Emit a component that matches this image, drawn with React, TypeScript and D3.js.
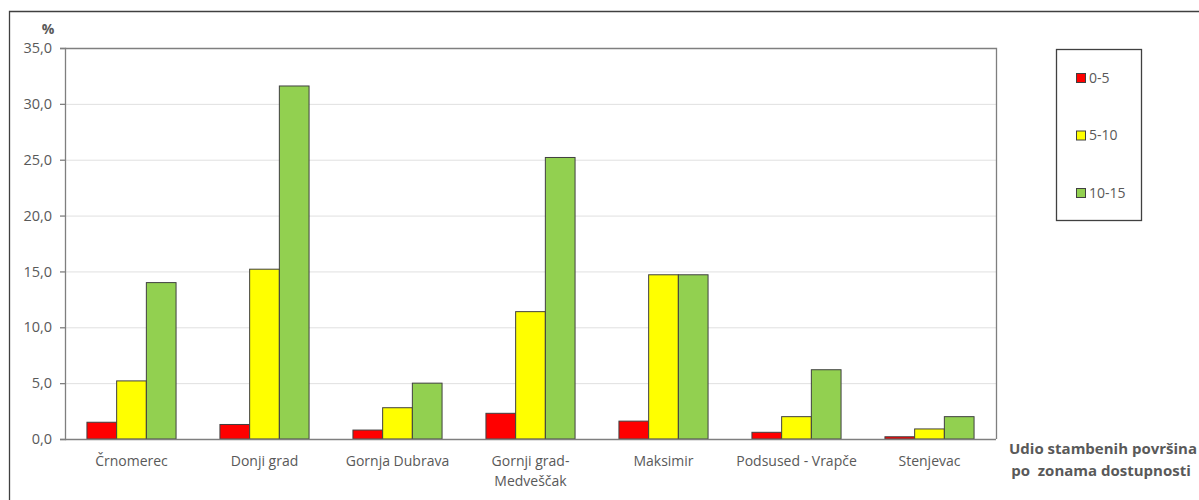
import React, { useEffect, useRef } from "react";
import * as d3 from "d3";

const categories = [
  ["Črnomerec"],
  ["Donji grad"],
  ["Gornja Dubrava"],
  ["Gornji grad-", "Medveščak"],
  ["Maksimir"],
  ["Podsused - Vrapče"],
  ["Stenjevac"],
];
const seriesNames = ["0-5", "5-10", "10-15"];
const seriesColors = ["#ff0000", "#ffff00", "#92d050"];
const values05 = [1.5, 1.3, 0.8, 2.3, 1.6, 0.6, 0.2];
const values510 = [5.2, 15.2, 2.8, 11.4, 14.7, 2.0, 0.9];
const values1015 = [14.0, 31.6, 5.0, 25.2, 14.7, 6.2, 2.0];
const yTicks = [0, 5, 10, 15, 20, 25, 30, 35];

const W = 1199;
const H = 500;
const FONT = "'Open Sans', 'Liberation Sans', sans-serif";
const TEXT = "#595959";

const App: React.FC = () => {
  const ref = useRef<SVGSVGElement>(null);

  useEffect(() => {
    const svg = d3.select(ref.current);
    svg.selectAll("*").remove();

    const margin = { top: 48, right: 203, bottom: 61, left: 65 };
    const series = [values05, values510, values1015];

    const x = d3
      .scaleBand<number>()
      .domain(d3.range(categories.length))
      .range([margin.left, W - margin.right])
      .paddingInner(0)
      .paddingOuter(0);

    const groupW = x.bandwidth() * 0.67;
    const xs = d3
      .scaleBand<number>()
      .domain(d3.range(series.length))
      .range([0, groupW]);

    const y = d3
      .scaleLinear()
      .domain([0, 35])
      .range([H - margin.bottom, margin.top]);

    // outer frame
    svg
      .append("path")
      .attr("d", `M9.5,${H} V11.5 H${W}`)
      .attr("fill", "none")
      .attr("stroke", "#404040")
      .attr("stroke-width", 1.3);

    // gridlines
    svg
      .append("g")
      .selectAll("line")
      .data(yTicks.slice(1))
      .join("line")
      .attr("x1", margin.left)
      .attr("x2", W - margin.right)
      .attr("y1", (d) => y(d) + 0.5)
      .attr("y2", (d) => y(d) + 0.5)
      .attr("stroke", "#e0e0e0")
      .attr("stroke-width", 1);

    // plot border top/right
    svg
      .append("path")
      .attr(
        "d",
        `M${margin.left},${margin.top + 0.5} H${W - margin.right + 0.5} V${H - margin.bottom}`
      )
      .attr("fill", "none")
      .attr("stroke", "#7f7f7f")
      .attr("stroke-width", 1.3);

    // bars
    const g = svg.append("g");
    series.forEach((vals, si) => {
      g.selectAll(`rect.s${si}`)
        .data(vals)
        .join("rect")
        .attr("class", `s${si}`)
        .attr("x", (_, i) => x(i)! + (x.bandwidth() - groupW) / 2 + xs(si)!)
        .attr("width", xs.bandwidth())
        .attr("y", (d) => y(d))
        .attr("height", (d) => y(0) - y(d))
        .attr("fill", seriesColors[si])
        .attr("stroke", "#404040")
        .attr("stroke-width", 1);
    });

    // y axis
    svg
      .append("g")
      .attr("transform", `translate(${margin.left},0)`)
      .call(
        d3
          .axisLeft(y)
          .tickValues(yTicks)
          .tickSize(5)
          .tickPadding(8)
          .tickFormat((d) => d3.format(".1f")(d as number).replace(".", ","))
      )
      .call((sel) => sel.select(".domain").attr("stroke", "#7f7f7f").attr("stroke-width", 1.3))
      .call((sel) => sel.selectAll(".tick line").attr("stroke", "#7f7f7f").attr("stroke-width", 1.3))
      .call((sel) =>
        sel
          .selectAll(".tick text")
          .attr("fill", TEXT)
          .style("font-family", FONT)
          .style("font-size", "14.5px")
      );

    // x axis baseline
    svg
      .append("line")
      .attr("x1", margin.left)
      .attr("x2", W - margin.right)
      .attr("y1", y(0) + 0.5)
      .attr("y2", y(0) + 0.5)
      .attr("stroke", "#7f7f7f")
      .attr("stroke-width", 1.3);

    // category labels
    const labels = svg
      .append("g")
      .selectAll("text")
      .data(categories)
      .join("text")
      .attr("x", (_, i) => x(i)! + x.bandwidth() / 2)
      .attr("y", y(0) + 27)
      .attr("text-anchor", "middle")
      .attr("fill", TEXT)
      .style("font-family", FONT)
      .style("font-size", "14px");
    labels
      .selectAll("tspan")
      .data((d) => d)
      .join("tspan")
      .attr("x", function () {
        return (this.parentNode as SVGTextElement).getAttribute("x");
      })
      .attr("dy", (_, i) => (i === 0 ? 0 : 20))
      .text((d) => d);

    // y title
    svg
      .append("text")
      .attr("x", 48)
      .attr("y", 34)
      .attr("text-anchor", "middle")
      .attr("fill", TEXT)
      .style("font-family", FONT)
      .style("font-size", "14px")
      .style("font-weight", "bold")
      .text("%");

    // x title
    const xt = svg
      .append("text")
      .attr("text-anchor", "middle")
      .attr("fill", TEXT)
      .style("font-family", FONT)
      .style("font-size", "15px")
      .style("font-weight", "bold");
    xt.append("tspan").attr("x", 1103).attr("y", 454).text("Udio stambenih površina");
    xt.append("tspan").attr("x", 1101).attr("y", 476).text("po  zonama dostupnosti").style("white-space", "pre");

    // legend
    svg
      .append("rect")
      .attr("x", 1056.5)
      .attr("y", 49.5)
      .attr("width", 85)
      .attr("height", 171)
      .attr("fill", "#fff")
      .attr("stroke", "#404040")
      .attr("stroke-width", 1.3);

    const ly = d3
      .scalePoint<number>()
      .domain(d3.range(seriesNames.length))
      .range([78, 193]);

    const li = svg
      .append("g")
      .selectAll("g")
      .data(seriesNames)
      .join("g")
      .attr("transform", (_, i) => `translate(1076,${ly(i)})`);
    li.append("rect")
      .attr("x", 0.5)
      .attr("y", -4.5)
      .attr("width", 9)
      .attr("height", 9)
      .attr("fill", (_, i) => seriesColors[i])
      .attr("stroke", "#404040")
      .attr("stroke-width", 1);
    li.append("text")
      .attr("x", 13)
      .attr("y", 0)
      .attr("dy", "0.35em")
      .attr("fill", TEXT)
      .style("font-family", FONT)
      .style("font-size", "14px")
      .text((d) => d);
  }, []);

  return (
    <svg
      ref={ref}
      width={W}
      height={H}
      viewBox={`0 0 ${W} ${H}`}
      style={{ position: "absolute", left: 0, top: 0, background: "#fff" }}
    />
  );
};

export default App;
